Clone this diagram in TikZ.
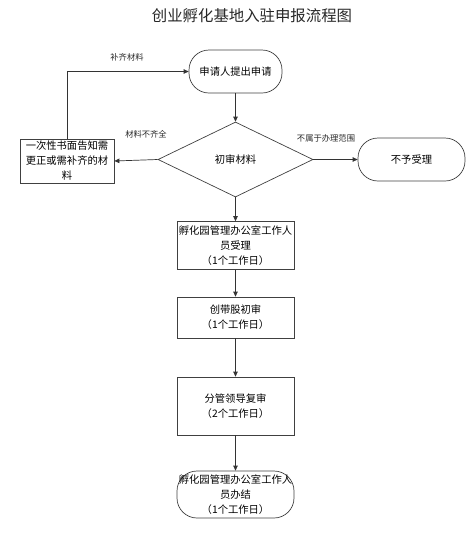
\documentclass[tikz,border=0pt]{standalone}
\usepackage{fontspec}
\setmainfont{Noto Sans CJK SC}
\usetikzlibrary{shapes.geometric,arrows.meta}
\begin{document}
\begin{tikzpicture}[x=1pt,y=-1pt,
  font=\fontsize{10.3}{15}\selectfont,
  base/.style={draw=black!75, line width=0.7pt, align=center, inner sep=0pt},
  procbox/.style={base, minimum width=117pt},
  term/.style={base, rounded corners=20pt},
  decision/.style={base, diamond, aspect=2.07, minimum width=155pt, minimum height=75pt},
  arr/.style={draw=black!80, line width=0.7pt, -{Triangle[length=5pt,width=4.5pt]}},
  lbl/.style={font=\fontsize{8.3}{10}\selectfont, text=black!85, inner sep=0pt}
]
\useasboundingbox (0,0) rectangle (474,547);
\node[font=\fontsize{15.4}{18}\selectfont, text=black!85] (title) at (252,16) {创业孵化基地入驻申报流程图};

\node[term, minimum width=93pt, minimum height=43pt] (start) at (235.5,71.5) {申请人提出申请};
\node[decision] (check) at (235.5,159.5) {初审材料};
\node[procbox, minimum width=94pt, minimum height=44pt] (notify) at (67,161) {一次性书面告知需\\更正或需补齐的材\\料};
\node[term, minimum width=107pt, minimum height=43pt] (reject) at (411.5,159.5) {不予受理};
\node[procbox, minimum height=48pt] (accept) at (235.5,245.5) {孵化园管理办公室工作人\\员受理\\（1个工作日）};
\node[procbox, minimum height=41pt] (first) at (235.5,317.5) {创带股初审\\（1个工作日）};
\node[procbox, minimum height=58pt] (second) at (235.5,406) {分管领导复审\\（2个工作日）};
\node[term, minimum width=117pt, minimum height=47pt] (done) at (235.5,494.5) {孵化园管理办公室工作人\\员办结\\（1个工作日）};

\draw[arr] (start.south) -- (check.north);
\draw[arr] (check.west) -- (notify.east);
\draw[arr] (check.east) -- (reject.west);
\draw[arr] (notify.north) |- (start.west);
\draw[arr] (check.south) -- (accept.north);
\draw[arr] (accept.south) -- (first.north);
\draw[arr] (first.south) -- (second.north);
\draw[arr] (second.south) -- (done.north);

\node[lbl] (l1) at (127,57) {补齐材料};
\node[lbl] (l2) at (146,134) {材料不齐全};
\node[lbl] (l3) at (326,138) {不属于办理范围};
\end{tikzpicture}
\end{document}
